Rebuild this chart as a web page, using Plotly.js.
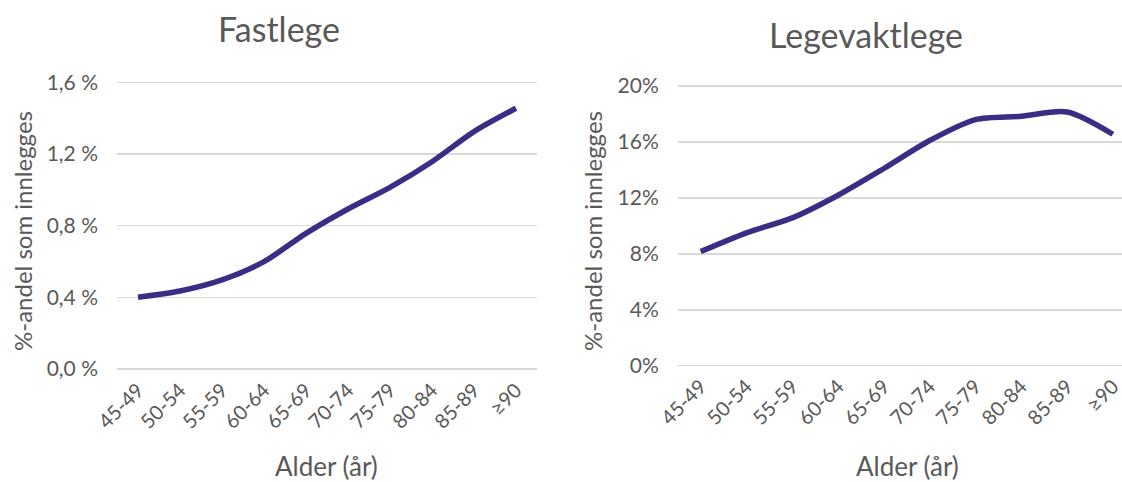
<!DOCTYPE html>
<html><head><meta charset="utf-8">
<script src="https://cdn.plot.ly/plotly-3.0.1.min.js"></script>
<style>body{margin:0;background:#fff}#c{width:1122px;height:482px}</style>
</head><body><div id="c"></div>
<script>
const ageGroups = ["45-49","50-54","55-59","60-64","65-69","70-74","75-79","80-84","85-89","≥90"];
const fastlege = [0.40,0.435,0.497,0.599,0.757,0.893,1.014,1.157,1.325,1.455];
const legevakt = [8.16,9.5,10.57,12.19,14.1,16.1,17.6,17.83,18.14,16.55];
const leftTickVals = [0,0.4,0.8,1.2,1.6];
const leftTickText = ["0,0 %","0,4 %","0,8 %","1,2 %","1,6 %"];
const rightTickVals = [0,4,8,12,16,20];
const rightTickText = ["0%","4%","8%","12%","16%","20%"];
const titleLeft = "Fastlege", titleRight = "Legevaktlege";
const xTitle = "Alder (år)", yTitle = "%-andel som innlegges";

const FONT = "Lato, 'Open Sans', sans-serif";
const GREY = "#595959";
const LINE = "#3b2d85";

const traces = [
  {x: ageGroups, y: fastlege, xaxis:'x', yaxis:'y', type:'scatter', mode:'lines',
   line:{color:LINE, width:5.5, shape:'spline', smoothing:0.8}, hoverinfo:'skip'},
  {x: ageGroups, y: legevakt, xaxis:'x2', yaxis:'y2', type:'scatter', mode:'lines',
   line:{color:LINE, width:5.5, shape:'spline', smoothing:0.8}, hoverinfo:'skip'}
];

const xbase = {type:'category', tickangle:-45, showgrid:false, zeroline:false, showline:false,
  ticks:'', tickfont:{family:FONT, size:20, color:GREY}, fixedrange:true, ticklabelstandoff:3};
const ybase = {showgrid:true, gridcolor:'#d9d9d9', gridwidth:1.5, zeroline:false, showline:false,
  ticks:'', tickfont:{family:FONT, size:21, color:GREY}, fixedrange:true, ticklabelstandoff:18};

const layout = {
  width:1122, height:482, autosize:false, showlegend:false,
  margin:{l:0,r:0,t:0,b:0}, paper_bgcolor:'#fff', plot_bgcolor:'#fff',
  xaxis: Object.assign({}, xbase, {domain:[117/1122, 537/1122], anchor:'y', range:[-0.5,9.5]}),
  yaxis: Object.assign({}, ybase, {domain:[0.2307, 0.8330], anchor:'x', range:[-0.01,1.61],
    tickvals:leftTickVals, ticktext:leftTickText}),
  xaxis2: Object.assign({}, xbase, {domain:[677.8/1122, 1], anchor:'y2', range:[-0.5,9.2]}),
  yaxis2: Object.assign({}, ybase, {domain:[0.2384, 0.8245], anchor:'x2', range:[-0.1,20.1],
    tickvals:rightTickVals, ticktext:rightTickText}),
  annotations:[
    {text:titleLeft, x:279/1122, y:1-28/482, xref:'paper', yref:'paper', showarrow:false,
     xanchor:'center', yanchor:'middle', font:{family:FONT, size:34, color:GREY}},
    {text:titleRight, x:866/1122, y:1-35/482, xref:'paper', yref:'paper', showarrow:false,
     xanchor:'center', yanchor:'middle', font:{family:FONT, size:34, color:GREY}},
    {text:xTitle, x:326/1122, y:1-466/482, xref:'paper', yref:'paper', showarrow:false,
     xanchor:'center', yanchor:'middle', font:{family:FONT, size:26, color:GREY}},
    {text:xTitle, x:907/1122, y:1-466/482, xref:'paper', yref:'paper', showarrow:false,
     xanchor:'center', yanchor:'middle', font:{family:FONT, size:26, color:GREY}},
    {text:yTitle, x:22/1122, y:1-231/482, xref:'paper', yref:'paper', showarrow:false, textangle:-90,
     xanchor:'center', yanchor:'middle', font:{family:FONT, size:24, color:GREY}},
    {text:yTitle, x:592/1122, y:1-231/482, xref:'paper', yref:'paper', showarrow:false, textangle:-90,
     xanchor:'center', yanchor:'middle', font:{family:FONT, size:24, color:GREY}}
  ]
};
Plotly.newPlot('c', traces, layout, {staticPlot:true, displayModeBar:false});
</script></body></html>
